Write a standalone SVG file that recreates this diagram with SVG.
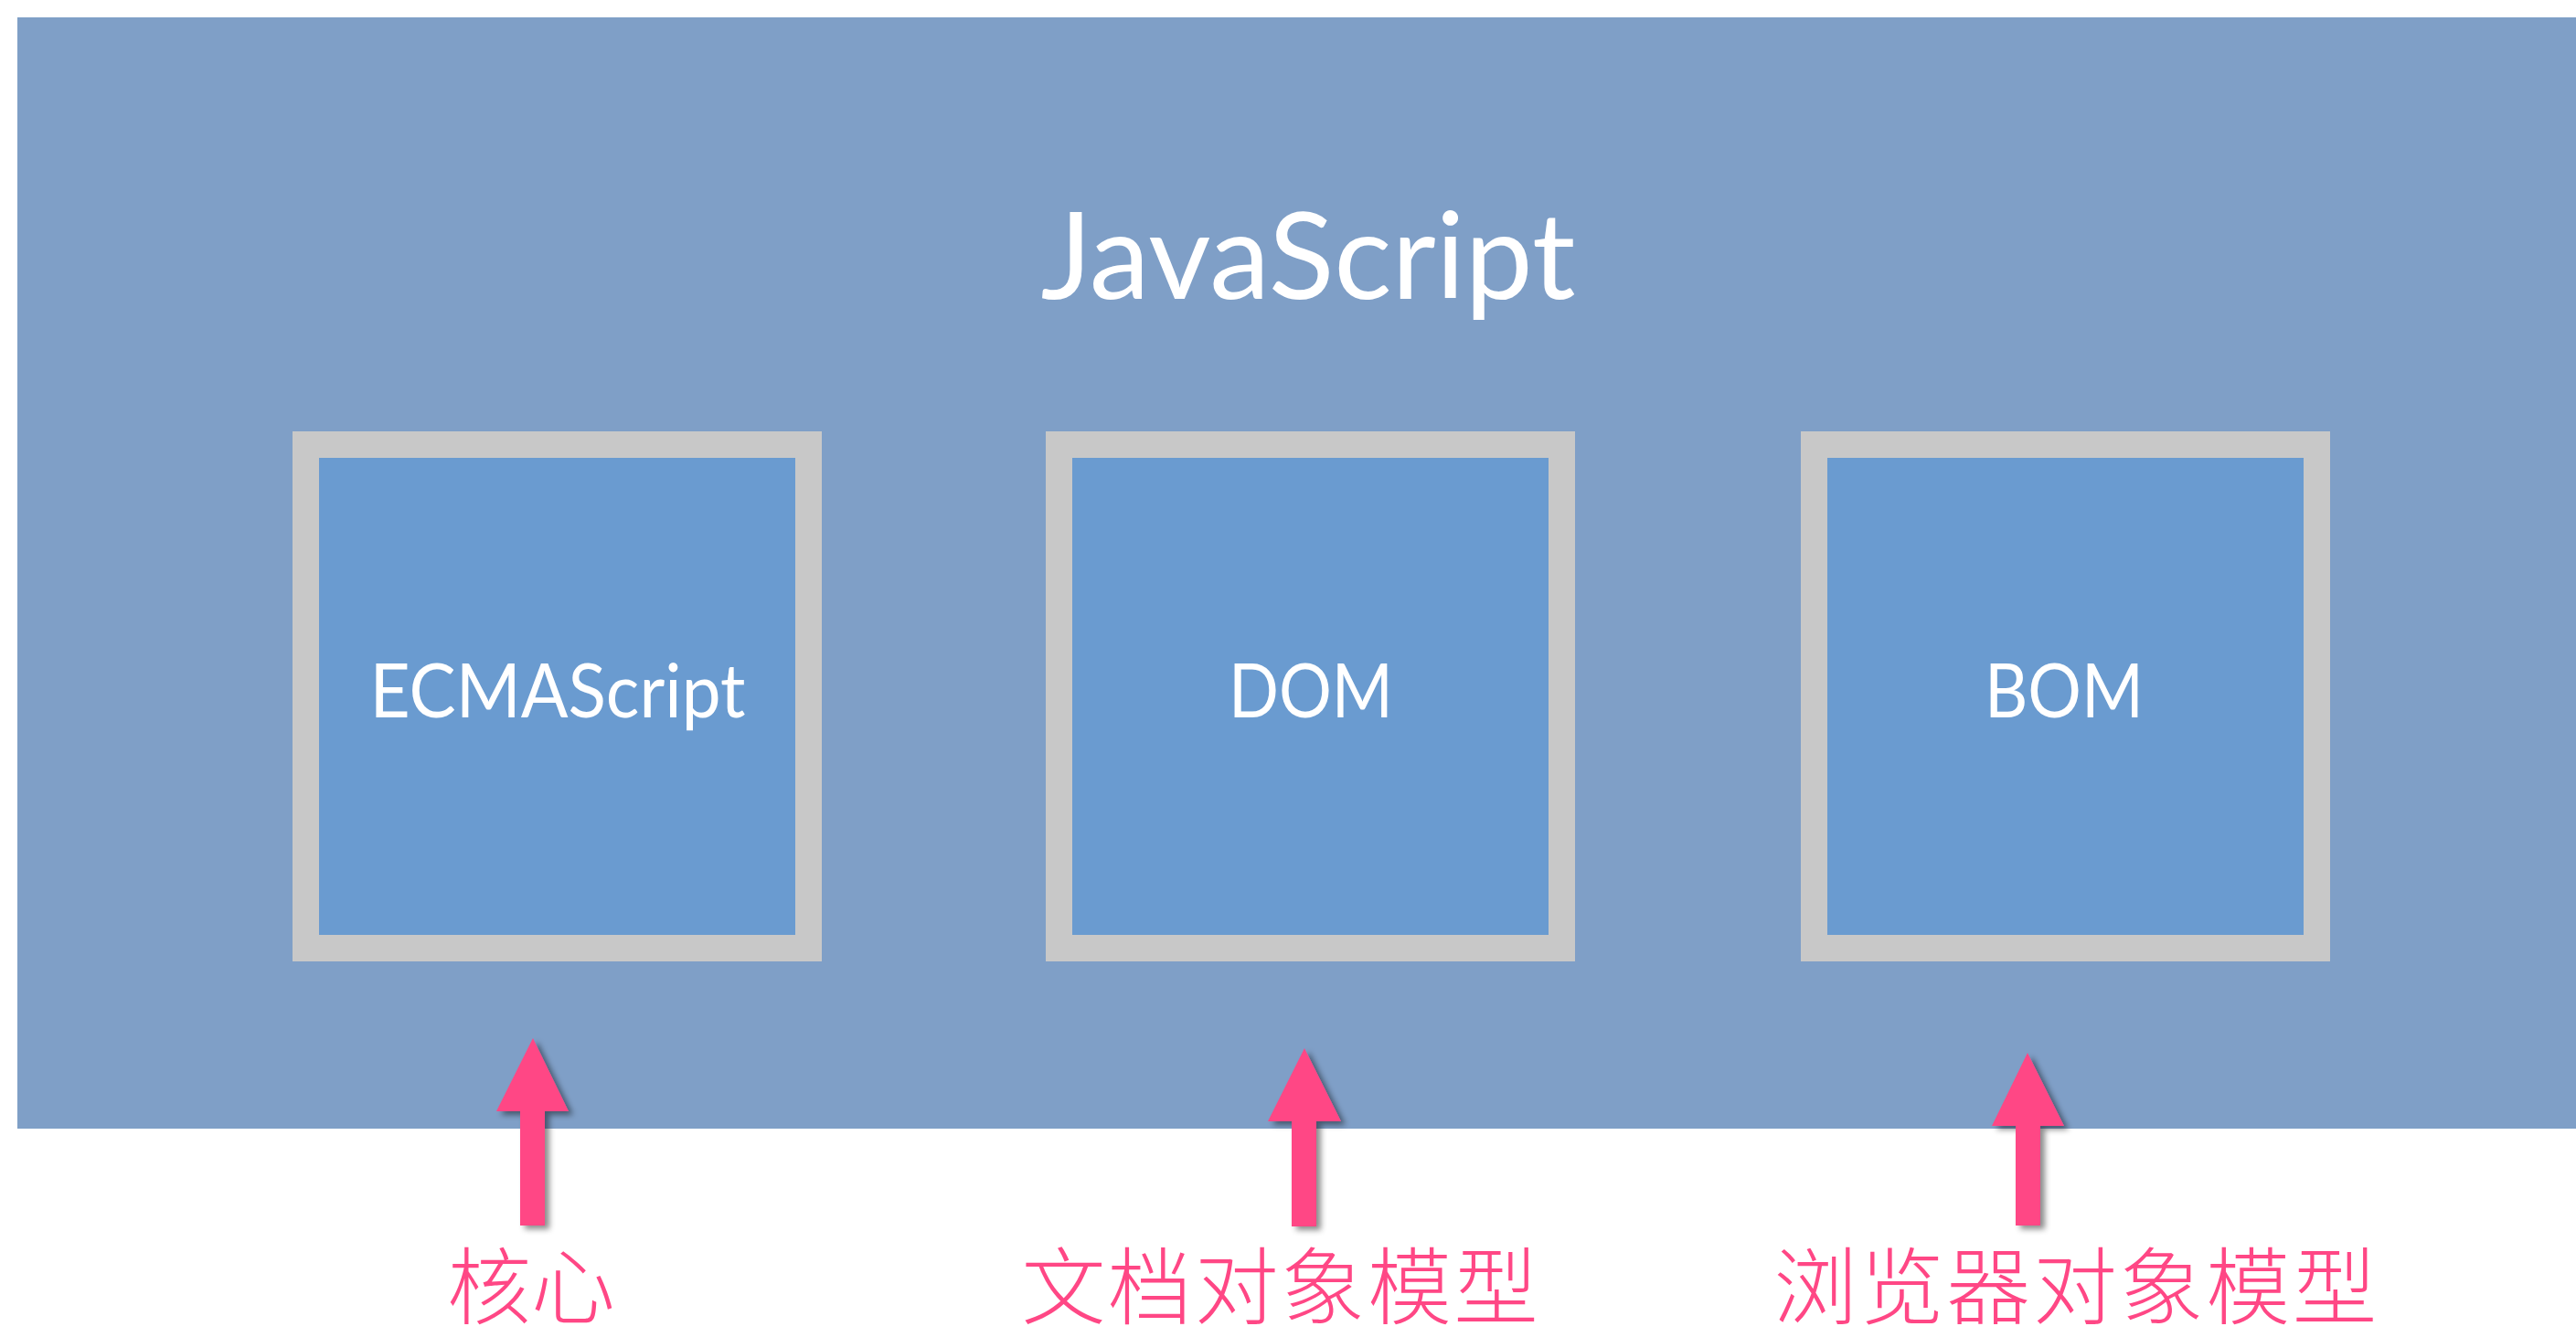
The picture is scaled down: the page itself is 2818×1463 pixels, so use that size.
<svg xmlns="http://www.w3.org/2000/svg" width="2818" height="1463" viewBox="0 0 2818 1463">
<defs>
<style>
.box{fill:#6A9BD0;stroke:#C8C8C8;stroke-width:29}
.lbl{font-family:Lato,"Open Sans","Liberation Sans",sans-serif;fill:#FFFFFF;font-size:81px;text-anchor:middle}
.cn{font-family:"Noto Sans CJK SC","Noto Sans CJK JP",sans-serif;font-weight:300;fill:#FF4785;font-size:92px;text-anchor:middle}
.arrow{fill:#FF4785;filter:url(#shadow)}
</style>
<filter id="shadow" x="-30%" y="-10%" width="160%" height="130%">
<feDropShadow dx="5" dy="4" stdDeviation="3" flood-color="#000000" flood-opacity="0.45"/>
</filter>
</defs>
<rect x="0" y="0" width="2818" height="1463" fill="#FFFFFF"/>
<rect id="background" x="19" y="19" width="2799" height="1216" fill="#7F9FC7"/>
<g id="title">
<text x="1431" y="327" font-family="Lato,'Open Sans','Liberation Sans',sans-serif" font-size="131" fill="#FFFFFF" text-anchor="middle" textLength="585" lengthAdjust="spacingAndGlyphs">JavaScript</text>
</g>
<g id="node-ecmascript">
<rect class="box" x="334.5" y="486.5" width="550" height="551"/>
<text class="lbl" x="610" y="785" textLength="411" lengthAdjust="spacingAndGlyphs">ECMAScript</text>
</g>
<g id="node-dom">
<rect class="box" x="1158.5" y="486.5" width="550" height="551"/>
<text class="lbl" x="1434" y="785" textLength="180" lengthAdjust="spacingAndGlyphs">DOM</text>
</g>
<g id="node-bom">
<rect class="box" x="1984.5" y="486.5" width="550" height="551"/>
<text class="lbl" x="2258" y="785" textLength="174" lengthAdjust="spacingAndGlyphs">BOM</text>
</g>
<g id="connectors">
<polygon class="arrow" points="583,1136 622,1216 596,1216 596,1341 569,1341 569,1216 543,1216"/>
<polygon class="arrow" points="1427,1147 1467,1227 1440,1227 1440,1342 1413,1342 1413,1227 1387,1227"/>
<polygon class="arrow" points="2218,1152 2258,1232 2232,1232 2232,1341 2205,1341 2205,1232 2179,1232"/>
</g>
<g id="label-core"><text class="cn" x="581" y="1442">核心</text></g>
<g id="label-dom"><text class="cn" x="1400" y="1442" textLength="565" lengthAdjust="spacing">文档对象模型</text></g>
<g id="label-bom"><text class="cn" x="2270" y="1442" textLength="660" lengthAdjust="spacing">浏览器对象模型</text></g>
</svg>
